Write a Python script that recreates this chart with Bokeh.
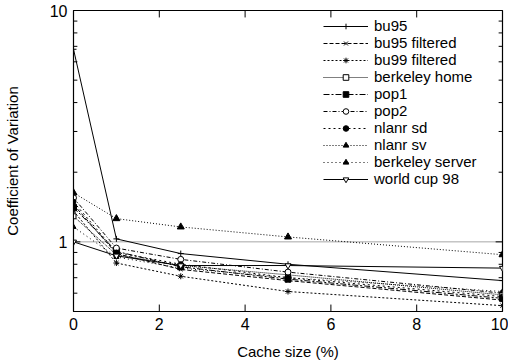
from bokeh.plotting import figure
from bokeh.models import (Range1d, FixedTicker, Legend, LegendItem)
from bokeh.embed import file_html
from bokeh.resources import INLINE

cache_size = [0, 1, 2.5, 5, 10]

bu95 = [6.8, 1.03, 0.89, 0.80, 0.68]
bu95_filtered = [1.45, 0.89, 0.76, 0.68, 0.56]
bu99_filtered = [1.36, 0.81, 0.71, 0.61, 0.53]
berkeley_home = [1.29, 0.88, 0.79, 0.72, 0.59]
pop1 = [1.41, 0.91, 0.78, 0.69, 0.57]
pop2 = [1.55, 0.94, 0.84, 0.74, 0.60]
nlanr_sd = [1.49, 0.90, 0.80, 0.70, 0.58]
nlanr_sv = [1.63, 1.26, 1.16, 1.05, 0.88]
berkeley_server = [1.16, 0.86, 0.77, 0.70, 0.61]
world_cup_98 = [1.0, 0.87, 0.79, 0.79, 0.77]

ref_x = [0, 10]
ref_y = [1.0, 1.0]

x_ticks = [0, 2, 4, 6, 8, 10]
y_ticks = [1, 10]
y_minor = [0.5, 0.6, 0.7, 0.8, 0.9, 2, 3, 4, 5, 6, 7, 8, 9]

X_MIN, X_MAX = 0, 10
Y_MIN, Y_MAX = 0.5, 10

FONT = "Liberation Sans"

p = figure(width=508, height=362, output_backend="svg", toolbar_location=None,
           y_axis_type="log", x_range=Range1d(X_MIN, X_MAX), y_range=Range1d(Y_MIN, Y_MAX),
           min_border_left=72, min_border_right=6, min_border_top=10, min_border_bottom=49,
           x_axis_label="Cache size (%)", y_axis_label="Coefficient of Variation")
p.grid.visible = False
p.outline_line_color = "black"
p.outline_line_width = 1.2
p.background_fill_color = "white"
p.border_fill_color = "white"

def style_axis(ax):
    ax.axis_line_color = "black"
    ax.major_tick_in = 0
    ax.major_tick_out = 0
    ax.minor_tick_in = 0
    ax.minor_tick_out = 0
    ax.major_label_text_font = FONT
    ax.major_label_text_font_size = "16px"
    ax.major_label_text_color = "black"
    ax.axis_label_text_font = FONT
    ax.axis_label_text_font_size = "15px"
    ax.axis_label_text_font_style = "normal"
    ax.axis_label_text_color = "black"

xa = p.xaxis[0]
xa.ticker = FixedTicker(ticks=x_ticks)
style_axis(xa)
xa.major_label_standoff = 6
xa.axis_label_standoff = 10
ya = p.yaxis[0]
ya.ticker = FixedTicker(ticks=y_ticks, minor_ticks=y_minor)
ya.major_label_overrides = {1: "1", 10: "10"}
style_axis(ya)
ya.major_label_standoff = 6
ya.axis_label_standoff = 26

# inward ticks on all four sides (gnuplot style), drawn in data space from tick lists
MAJ_X = 0.16   # x-data length of a y tick (about 7 px)
MIN_X = 0.09
MAJ_F = 10 ** (7 / 233)  # multiplicative length of an x tick on log axis
p.segment(x0=x_ticks, y0=[Y_MIN] * len(x_ticks), x1=x_ticks, y1=[Y_MIN * MAJ_F] * len(x_ticks),
          line_color="black", line_width=1)
p.segment(x0=x_ticks, y0=[Y_MAX] * len(x_ticks), x1=x_ticks, y1=[Y_MAX / MAJ_F] * len(x_ticks),
          line_color="black", line_width=1)
p.segment(x0=[X_MIN] * len(y_ticks), y0=y_ticks, x1=[X_MIN + MAJ_X] * len(y_ticks), y1=y_ticks,
          line_color="black", line_width=1)
p.segment(x0=[X_MAX] * len(y_ticks), y0=y_ticks, x1=[X_MAX - MAJ_X] * len(y_ticks), y1=y_ticks,
          line_color="black", line_width=1)
p.segment(x0=[X_MIN] * len(y_minor), y0=y_minor, x1=[X_MIN + MIN_X] * len(y_minor), y1=y_minor,
          line_color="black", line_width=1)
p.segment(x0=[X_MAX] * len(y_minor), y0=y_minor, x1=[X_MAX - MIN_X] * len(y_minor), y1=y_minor,
          line_color="black", line_width=1)

series = [
    ("bu95", bu95, "solid", "cross", "black", 6),
    ("bu95 filtered", bu95_filtered, "4 2", "x", "black", 5),
    ("bu99 filtered", bu99_filtered, "2 2", "asterisk", "black", 6),
    ("berkeley home", berkeley_home, "1 1", "square", None, 5),
    ("pop1", pop1, "6 2 2 2", "square", "black", 6),
    ("pop2", pop2, "4 2 1 2", "circle", None, 6),
    ("nlanr sd", nlanr_sd, "2 3", "circle", "black", 5),
    ("nlanr sv", nlanr_sv, "1 2", "triangle", "black", 7),
    ("berkeley server", berkeley_server, "1 3", "triangle", "black", 5),
    ("world cup 98", world_cup_98, "solid", "inverted_triangle", None, 6),
]

p.line(ref_x, ref_y, line_color="black", line_dash="1 1", line_width=1, line_alpha=0.7)

items = []
for name, vals, dash, marker, fill, size in series:
    r1 = p.line(cache_size, vals, line_color="black", line_dash=dash, line_width=1)
    r2 = p.scatter(cache_size, vals, marker=marker, size=size, line_color="black",
                   fill_color=fill if fill else "white", line_width=1)
    items.append(LegendItem(label=name, renderers=[r1, r2]))

legend = Legend(items=items, location=(250, 124))
legend.border_line_color = None
legend.background_fill_alpha = 0
legend.label_text_font = FONT
legend.label_text_font_size = "15px"
legend.label_text_color = "black"
legend.glyph_width = 45
legend.glyph_height = 14
legend.label_height = 14
legend.spacing = -2
legend.padding = 2
legend.margin = 0
legend.label_standoff = 6
p.add_layout(legend)

open("out.html", "w").write(file_html(p, INLINE))
